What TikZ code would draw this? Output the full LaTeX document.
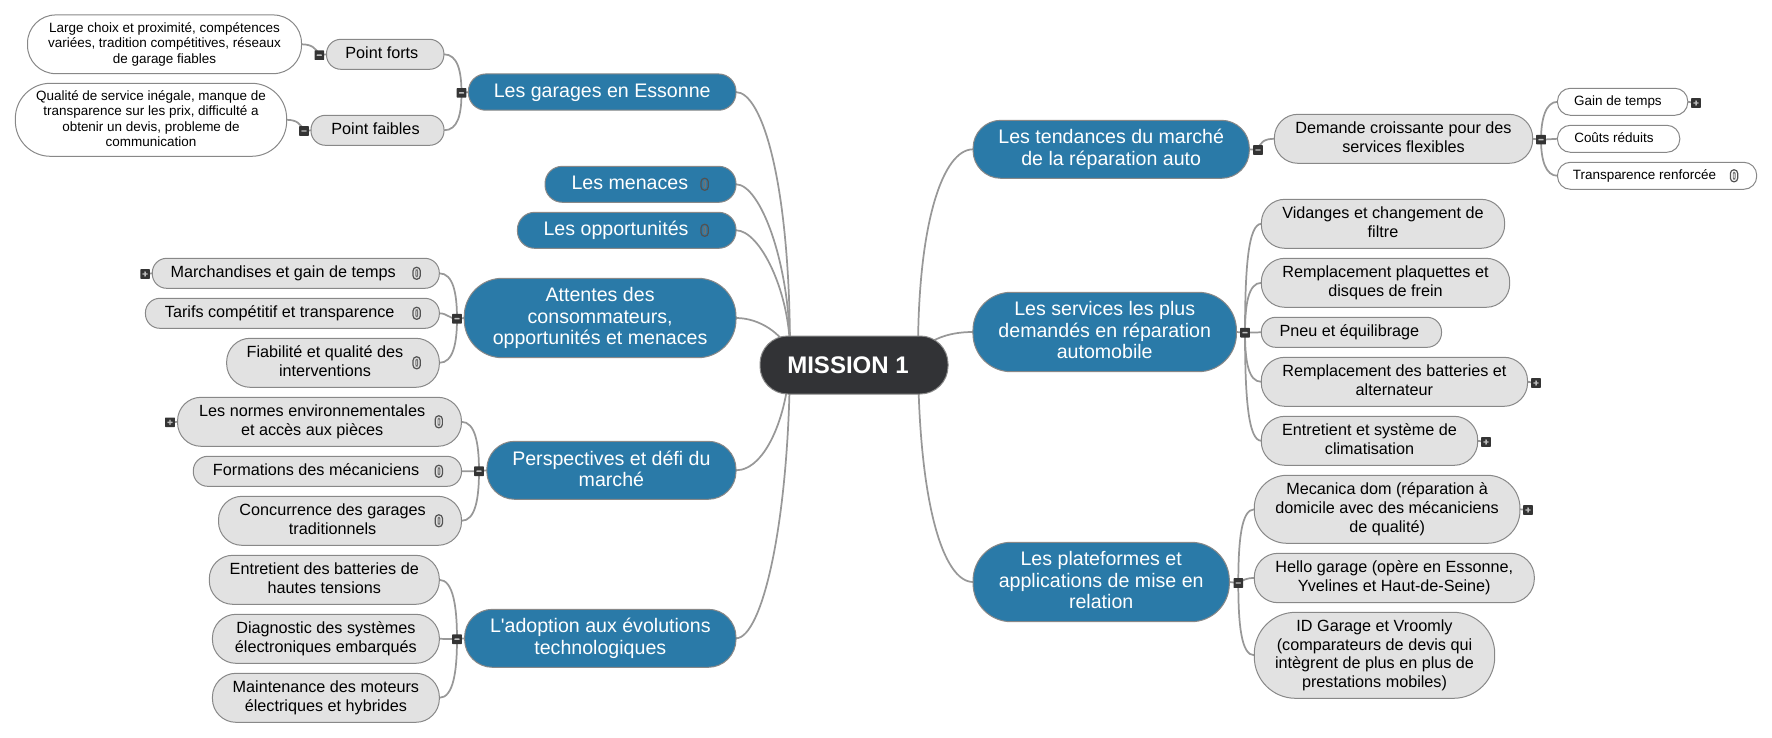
\documentclass[tikz,border=0pt]{standalone}
\usepackage{fontspec}
\setmainfont{Liberation Sans}
\usepackage{xcolor}
\usetikzlibrary{backgrounds}

\definecolor{branchblue}{RGB}{42,122,168}
\definecolor{leafgrey}{RGB}{226,226,226}
\definecolor{edgegrey}{RGB}{152,152,152}
\definecolor{rimgrey}{RGB}{136,136,136}
\definecolor{rootdark}{RGB}{50,51,54}
\definecolor{togdark}{RGB}{52,52,52}

\newcommand{\room}[1]{\hspace*{#1pt}}
\newcommand{\capstrut}{\rule[-.18em]{0pt}{.93em}}

\tikzset{
	pill/.style 2 args={draw=rimgrey,line width=0.75pt,inner sep=0pt,outer sep=0pt,align=center,
		minimum width=#1*0.75pt,minimum height=#2*0.75pt,rounded corners=#2*0.36pt},
	struts/.style={execute at begin node=\capstrut,execute at end node=\capstrut},
	rootnode/.style={fill=rootdark,text=white,font=\fontsize{18}{21}\selectfont\bfseries},
	branch/.style={struts,fill=branchblue,text=white,font=\fontsize{14.7}{16.1}\selectfont},
	leaf/.style={struts,fill=leafgrey,text=black,font=\fontsize{12.15}{14}\selectfont},
	note/.style={struts,fill=white,text=black,font=\fontsize{10.1}{11.5}\selectfont},
	link/.style={draw=edgegrey,line width=1.3pt},
	togbox/.style={fill=togdark,inner sep=0pt,minimum size=7.2pt,rounded corners=0.4pt},
	togminus/.style={togbox,path picture={
		\fill[white!75!black] ([xshift=-2pt,yshift=-0.55pt]path picture bounding box.center) rectangle ++(4pt,1.1pt);}},
	togplus/.style={togbox,path picture={
		\fill[white!75!black] ([xshift=-2pt,yshift=-0.55pt]path picture bounding box.center) rectangle ++(4pt,1.1pt);
		\fill[white!75!black] ([xshift=-0.55pt,yshift=-2pt]path picture bounding box.center) rectangle ++(1.1pt,4pt);}},
	clipmark/.pic={
		\draw[black!68,line width=0.9pt,rounded corners=2.6pt] (-3.6,-6) rectangle (3.6,6);
		\draw[black!55,line width=0.7pt,rounded corners=0.8pt] (-0.8,-3.4) rectangle (1,3.4);}
}

\begin{document}
\begin{tikzpicture}[x=0.75pt,y=-0.75pt]
	\useasboundingbox (0,0) rectangle (1772,738);

	\node[pill={188}{58},rootnode] (root) at (854,365) {MISSION 1\room{9}};
	\coordinate (rootl) at (790,352);
	\coordinate (rootr) at (918,352);

	% left side
	\node[pill={267.6}{36.3},branch] (esse) at (602.2,92.1) {Les garages en Essonne};
	\node[pill={191}{36},branch] (mena) at (640.5,184.3) {Les menaces\room{16}};
	\node[pill={218.6}{36},branch] (oppo) at (626.7,230.3) {Les opportunités\room{16}};
	\node[pill={271.8}{79.4},branch] (atte) at (600.1,318) {Attentes des\\consommateurs,\\opportunités et menaces};
	\node[pill={249.2}{58},branch] (pers) at (611.4,470.3) {Perspectives et défi du\\marché};
	\node[pill={271.4}{58},branch] (adop) at (600.3,638.3) {L\textquotesingle adoption aux évolutions\\technologiques};

	\node[pill={117.4}{30},leaf] (forts) at (385.2,54.3) {Point forts\room{5}};
	\node[pill={133}{30},leaf] (faib) at (377.5,130.3) {Point faibles\room{3}};
	\node[pill={274}{58.7},note] (large) at (164.5,44.3) {Large choix et proximité, compétences\\variées, tradition compétitives, réseaux\\de garage fiables};
	\node[pill={271.3}{73},note] (qual) at (151,119.8) {Qualité de service inégale, manque de\\transparence sur les prix, difficulté a\\obtenir un devis, probleme de\\communication};

	\node[pill={287}{30},leaf] (marc) at (295.8,273.3) {Marchandises et gain de temps\room{19}};
	\node[pill={293.9}{30},leaf] (tari) at (292.4,313.3) {Tarifs compétitif et transparence\room{19}};
	\node[pill={212.7}{49},leaf] (fiab) at (333,362.8) {Fiabilité et qualité des\room{12}\\interventions\room{12}};

	\node[pill={283.9}{49},leaf] (norm) at (319.5,421.8) {Les normes environnementales\room{11}\\et accès aux pièces\room{11}};
	\node[pill={268.2}{30},leaf] (form) at (327.4,471.3) {Formations des mécaniciens\room{17}};
	\node[pill={243}{49},leaf] (conc) at (340,520.8) {Concurrence des garages\room{11}\\traditionnels\room{11}};

	\node[pill={230}{49},leaf] (entr) at (324.3,579.8) {Entretient des batteries de\\hautes tensions};
	\node[pill={226.9}{49},leaf] (diag) at (325.9,638.8) {Diagnostic des systèmes\\électroniques embarqués};
	\node[pill={226.9}{49},leaf] (moto) at (325.9,697.8) {Maintenance des moteurs\\électriques et hybrides};

	% right side
	\node[pill={276.3}{58},branch] (tend) at (1111.2,149.3) {Les tendances du marché\\de la réparation auto};
	\node[pill={263.5}{79.4},branch] (serv) at (1104.7,332) {Les services les plus\\demandés en réparation\\automobile};
	\node[pill={256.3}{79.4},branch] (plat) at (1101.2,582) {Les plateformes et\\applications de mise en\\relation};

	\node[pill={258.3}{49},leaf] (dema) at (1403.5,138.8) {Demande croissante pour des\\services flexibles};
	\node[pill={130.3}{27},note] (gain) at (1622.6,101.8) {Gain de temps\room{7}};
	\node[pill={122.3}{27},note] (cout) at (1618.6,138.8) {Coûts réduits\room{7}};
	\node[pill={199.2}{27},note] (tran) at (1657.1,175.8) {Transparence renforcée\room{19}};

	\node[pill={243.3}{49},leaf] (vida) at (1383,223.8) {Vidanges et changement de\\filtre};
	\node[pill={248.4}{49},leaf] (remp) at (1385.5,282.8) {Remplacement plaquettes et\\disques de frein};
	\node[pill={180.2}{30},leaf] (pneu) at (1351.4,332.3) {Pneu et équilibrage\room{3}};
	\node[pill={266.3}{49},leaf] (batt) at (1394.4,381.8) {Remplacement des batteries et\\alternateur};
	\node[pill={216.4}{49},leaf] (clim) at (1369.5,440.8) {Entretient et système de\\climatisation};

	\node[pill={265.7}{68},leaf] (meca) at (1387.1,509.3) {Mecanica dom (réparation à\\domicile avec des mécaniciens\\de qualité)};
	\node[pill={280}{49.4},leaf] (hell) at (1394.3,578) {Hello garage (opère en Essonne,\\Yvelines et Haut-de-Seine)};
	\node[pill={240.4}{86},leaf] (idga) at (1374.5,655.3) {ID Garage et Vroomly\\(comparateurs de devis qui\\intègrent de plus en plus de\\prestations mobiles)};

	% toggles
	\node[togminus] (tlarge) at (319.3,55.2) {};
	\node[togminus] (tqual) at (304,131) {};
	\node[togminus] (tesse) at (461.5,92.9) {};
	\node[togminus] (tatte) at (457,318.7) {};
	\node[togminus] (tpers) at (479,471.2) {};
	\node[togminus] (tadop) at (457,639.2) {};
	\node[togminus] (ttend) at (1258,150) {};
	\node[togminus] (tdema) at (1541,139.7) {};
	\node[togminus] (tserv) at (1245,332.7) {};
	\node[togminus] (tplat) at (1238.3,583) {};
	\node[togplus] (tmarc) at (145.1,274) {};
	\node[togplus] (tnorm) at (170,422.3) {};
	\node[togplus] (tgain) at (1696,103) {};
	\node[togplus] (tbatt) at (1536,383) {};
	\node[togplus] (tclim) at (1486,442) {};
	\node[togplus] (tmeca) at (1528,510) {};

	% attachment marks
	\pic at ([xshift=-23.5pt]mena.east) {clipmark};
	\pic at ([xshift=-23.5pt]oppo.east) {clipmark};
	\pic at ([xshift=-17pt]marc.east) {clipmark};
	\pic at ([xshift=-17pt]tari.east) {clipmark};
	\pic at ([xshift=-17pt]fiab.east) {clipmark};
	\pic at ([xshift=-17pt]norm.east) {clipmark};
	\pic at ([xshift=-17pt]form.east) {clipmark};
	\pic at ([xshift=-17pt]conc.east) {clipmark};
	\pic at ([xshift=-17pt]tran.east) {clipmark};

	\begin{pgfonlayer}{background}
		\draw[link] (esse.east) .. controls +(26,0) and +(0,-170) .. (rootl);
		\draw[link] (mena.east) .. controls +(24,0) and +(0,-90) .. (rootl);
		\draw[link] (oppo.east) .. controls +(24,0) and +(0,-60) .. (rootl);
		\draw[link] (atte.east) .. controls +(24,0) and +(-8,-18) .. (rootl);
		\draw[link] (pers.east) .. controls +(30,0) and +(0,60) .. (rootl);
		\draw[link] (adop.east) .. controls +(26,0) and +(0,170) .. (rootl);
		\draw[link] (tend.west) .. controls +(-30,0) and +(0,-130) .. (rootr);
		\draw[link] (serv.west) .. controls +(-26,0) and +(12,-12) .. (rootr);
		\draw[link] (plat.west) .. controls +(-30,0) and +(0,150) .. (rootr);

		\draw[link] (esse.west) -- (tesse.center);
		\draw[link] (forts.east) .. controls +(14,0) and +(0,-21) .. (tesse.center);
		\draw[link] (faib.east) .. controls +(14,0) and +(0,21) .. (tesse.center);
		\draw[link] (forts.west) -- (tlarge.center);
		\draw[link] (large.east) .. controls +(10,0) and +(-3,-7) .. (tlarge.center);
		\draw[link] (faib.west) -- (tqual.center);
		\draw[link] (qual.east) .. controls +(10,0) and +(-3,-7) .. (tqual.center);

		\draw[link] (atte.west) -- (tatte.center);
		\draw[link] (marc.east) .. controls +(14,0) and +(0,-25) .. (tatte.center);
		\draw[link] (tari.east) .. controls +(8,0) and +(-8,0) .. (tatte.center);
		\draw[link] (fiab.east) .. controls +(14,0) and +(0,24) .. (tatte.center);
		\draw[link] (marc.west) -- (tmarc.center);

		\draw[link] (pers.west) -- (tpers.center);
		\draw[link] (norm.east) .. controls +(14,0) and +(0,-27) .. (tpers.center);
		\draw[link] (form.east) -- (tpers.center);
		\draw[link] (conc.east) .. controls +(14,0) and +(0,27) .. (tpers.center);
		\draw[link] (norm.west) -- (tnorm.center);

		\draw[link] (adop.west) -- (tadop.center);
		\draw[link] (entr.east) .. controls +(14,0) and +(0,-32) .. (tadop.center);
		\draw[link] (diag.east) -- (tadop.center);
		\draw[link] (moto.east) .. controls +(14,0) and +(0,32) .. (tadop.center);

		\draw[link] (tend.east) -- (ttend.center);
		\draw[link] (ttend.center) .. controls +(2,-8) and +(-10,0) .. (dema.west);
		\draw[link] (dema.east) -- (tdema.center);
		\draw[link] (tdema.center) .. controls +(0,-20) and +(-12,0) .. (gain.west);
		\draw[link] (tdema.center) -- (cout.west);
		\draw[link] (tdema.center) .. controls +(0,20) and +(-12,0) .. (tran.west);
		\draw[link] (gain.east) -- (tgain.center);

		\draw[link] (serv.east) -- (tserv.center);
		\draw[link] (tserv.center) .. controls +(0,-65) and +(-13,0) .. (vida.west);
		\draw[link] (tserv.center) .. controls +(0,-28) and +(-13,0) .. (remp.west);
		\draw[link] (tserv.center) -- (pneu.west);
		\draw[link] (tserv.center) .. controls +(0,28) and +(-13,0) .. (batt.west);
		\draw[link] (tserv.center) .. controls +(0,65) and +(-13,0) .. (clim.west);
		\draw[link] (batt.east) -- (tbatt.center);
		\draw[link] (clim.east) -- (tclim.center);

		\draw[link] (plat.east) -- (tplat.center);
		\draw[link] (tplat.center) .. controls +(0,-42) and +(-13,0) .. (meca.west);
		\draw[link] (tplat.center) .. controls +(5,-3) and +(-8,0) .. (hell.west);
		\draw[link] (tplat.center) .. controls +(0,42) and +(-13,0) .. (idga.west);
		\draw[link] (meca.east) -- (tmeca.center);
	\end{pgfonlayer}
\end{tikzpicture}
\end{document}
